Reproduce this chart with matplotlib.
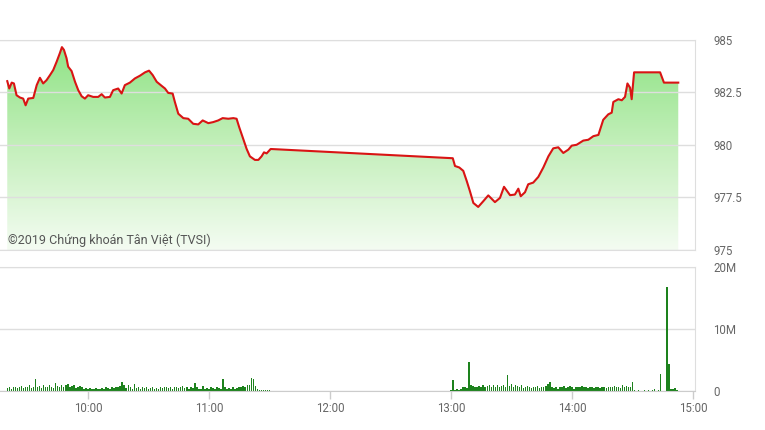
import matplotlib.pyplot as plt
import numpy as np
from matplotlib.patches import Polygon
from matplotlib.colors import LinearSegmentedColormap

plt.rcParams['font.family'] = ['Roboto', 'DejaVu Sans']

# gia chi so theo phut (tinh tu 9:00)
price_min = [20.0, 21.0, 22.2, 23.3, 24.6, 26.3, 27.9, 29.1, 30.4, 32.9,
             34.6, 36.2, 37.8, 39.5, 41.2, 42.8, 44.5, 46.1, 47.1, 48.1,
             49.4, 50.2, 51.9, 53.6, 55.2, 56.9, 58.5, 60.1, 62.6, 65.1,
             66.8, 68.4, 70.9, 72.5, 75.0, 76.7, 78.3, 80.8, 83.3, 85.8,
             88.3, 90.3, 92.1, 94.1, 96.5, 98.2, 99.8, 102.0, 103.1, 104.8,
             107.3, 109.7, 112.2, 114.7, 116.9, 119.7, 122.1, 124.6, 126.8, 129.6,
             132.1, 133.7, 135.0, 137.0, 138.7, 140.3, 142.8, 144.5, 146.1, 147.3,
             148.6, 150.6,
             240.9, 242.0, 244.1, 246.1, 247.8, 249.4, 251.1, 253.5, 256.0, 258.5,
             261.8, 264.3, 266.3, 269.3, 271.7, 273.4, 274.6, 276.7, 278.3, 280.8,
             283.3, 285.8, 288.3, 290.7, 293.2, 295.7, 298.2, 299.9, 302.3, 305.6,
             308.1, 310.6, 313.1, 315.5, 318.0, 319.7, 320.5, 323.0, 324.7, 326.3,
             327.5, 328.8, 329.6, 330.8, 343.7, 345.6, 352.7]
price = [983.04, 982.69, 982.97, 982.93, 982.37, 982.26, 982.21, 981.89, 982.21, 982.24,
         982.85, 983.20, 982.93, 983.09, 983.33, 983.57, 983.97, 984.38, 984.66, 984.53,
         984.13, 983.73, 983.52, 983.01, 982.61, 982.32, 982.21, 982.37, 982.29, 982.29,
         982.42, 982.26, 982.29, 982.61, 982.69, 982.45, 982.85, 982.97, 983.17, 983.30,
         983.46, 983.54, 983.33, 983.01, 982.82, 982.69, 982.48, 982.45, 982.05, 981.49,
         981.28, 981.25, 981.01, 980.98, 981.17, 981.04, 981.09, 981.17, 981.28, 981.25,
         981.28, 981.25, 980.85, 980.29, 979.81, 979.46, 979.29, 979.29, 979.46, 979.65,
         979.60, 979.81,
         979.37, 979.00, 978.93, 978.77, 978.29, 977.80, 977.24, 977.05, 977.32, 977.60,
         977.28, 977.48, 978.01, 977.61, 977.64, 977.92, 977.56, 977.75, 978.13, 978.21,
         978.48, 978.93, 979.46, 979.84, 979.89, 979.62, 979.78, 979.97, 980.01, 980.21,
         980.25, 980.42, 980.48, 981.20, 981.46, 981.54, 982.05, 982.18, 982.13, 982.29,
         982.93, 982.73, 982.18, 983.46, 983.46, 982.97, 982.97]

# khoi luong (trieu CP) moi phut
vol_am_start = 20
vol_am = [0.5, 0.6, 0.4, 0.6, 0.7, 0.5, 0.6, 0.8, 0.5, 0.7,
          0.6, 0.9, 0.5, 0.7, 2.0, 0.6, 0.8, 0.5, 1.0, 0.7,
          0.6, 0.9, 0.7, 0.5, 1.3, 0.8, 0.6, 1.0, 0.7, 0.9,
          1.2, 0.6, 0.8, 0.9, 0.5, 0.7, 0.8, 0.6, 0.4, 0.5,
          0.4, 0.5, 0.3, 0.4, 0.5, 0.3, 0.4, 0.5, 0.4, 0.6,
          0.5, 0.4, 0.6, 0.5, 0.7, 0.6, 0.8, 1.5, 0.9, 0.5,
          1.0, 0.6, 0.4, 1.2, 0.5, 0.7, 0.4, 0.6, 0.5, 0.6,
          0.4, 0.5, 0.6, 0.4, 0.5, 0.3, 0.6, 0.5, 0.7, 0.6,
          0.5, 0.6, 0.4, 0.7, 0.6, 0.5, 0.6, 0.8, 0.5, 0.6,
          0.4, 0.6, 0.5, 1.3, 0.6, 0.4, 0.3, 0.8, 0.4, 0.5,
          0.4, 0.6, 0.5, 0.4, 0.6, 0.5, 0.4, 2.0, 0.6, 0.4,
          0.5, 0.4, 0.6, 0.4, 0.5, 0.7, 0.6, 0.8, 0.7, 1.0,
          0.9, 2.1, 2.0, 0.8, 0.3, 0.2, 0.2, 0.1, 0.2, 0.1, 0.1]
vol_pm_start = 240
vol_pm = [0.1, 1.7, 0.2, 0.3, 0.2, 0.3, 0.6, 0.7, 0.5, 4.7,
          0.9, 0.8, 0.7, 0.6, 0.8, 0.7, 0.9, 0.6, 0.8, 1.0,
          0.7, 0.9, 0.6, 1.0, 0.7, 0.8, 0.9, 0.6, 2.6, 0.8,
          1.1, 0.7, 0.9, 0.8, 0.6, 0.9, 0.5, 0.7, 0.8, 0.6,
          0.5, 0.7, 0.6, 0.8, 0.5, 0.7, 0.6, 0.8, 1.2, 1.5,
          0.7, 0.5, 0.6, 0.4, 0.6, 0.7, 0.8, 0.5, 0.6, 0.8,
          0.7, 0.4, 0.6, 0.7, 0.6, 0.8, 0.7, 0.6, 0.5, 0.7,
          0.6, 0.5, 0.7, 0.6, 0.5, 0.6, 0.7, 0.5, 0.6, 0.7,
          0.6, 0.8, 0.7, 0.6, 0.5, 0.9, 0.7, 0.8, 0.6, 0.7,
          1.4, 0.1, 0.0, 0.1, 0.0, 0.0, 0.1, 0.0, 0.2, 0.0,
          0.1, 0.3, 0.0, 0.2, 2.8, 0.0, 0.0, 16.8, 4.4, 0.4,
          0.3, 0.5, 0.2]

xticks = [60, 120, 180, 240, 300, 360]
xlabels = ['10:00', '11:00', '12:00', '13:00', '14:00', '15:00']
price_ticks = [975, 977.5, 980, 982.5, 985]
price_labels = ['975', '977.5', '980', '982.5', '985']
vol_ticks = [0, 10, 20]
vol_labels = ['0', '10M', '20M']

xlim = (16.4, 361)
grid_c = '#dedede'
text_c = '#666666'

fig = plt.figure(figsize=(7.65, 4.3), dpi=100)
ax = fig.add_axes([0, 0.4186, 0.9085, 0.4884])
axv = fig.add_axes([0, 0.0907, 0.9085, 0.2884])

# --- gia ---
t = np.array(price_min)
p = np.array(price)
ax.set_xlim(*xlim)
ax.set_ylim(975, 985)

verts = list(zip(t, p)) + [(t[-1], 975), (t[0], 975)]
clip = Polygon(verts, closed=True, facecolor='none', edgecolor='none', transform=ax.transData)
ax.add_patch(clip)
cmap = LinearSegmentedColormap.from_list('g', ['#f4fcf2', '#c3efba', '#8ce282'])
grad = np.linspace(0, 1, 256).reshape(-1, 1)
im = ax.imshow(grad, extent=[t[0], t[-1], 975, 985], origin='lower', aspect='auto',
               cmap=cmap, zorder=1)
im.set_clip_path(clip)

ax.plot(t, p, color='#d91414', lw=1.5, zorder=3)

ax.set_yticks(price_ticks)
ax.set_yticklabels(price_labels)
ax.yaxis.tick_right()
ax.tick_params(axis='y', length=0, pad=13, labelsize=8.3, labelcolor=text_c)
ax.set_xticks([])
ax.grid(axis='y', color=grid_c, lw=1, zorder=0)
for s in ['top', 'right', 'bottom']:
    ax.spines[s].set_color(grid_c)
ax.spines['left'].set_visible(False)
ax.text(0.0115, 0.048, '©2019 Chứng khoán Tân Việt (TVSI)', transform=ax.transAxes,
        fontsize=9, color='#555555', va='center', ha='left', zorder=4)

# --- khoi luong ---
tv_am = np.arange(len(vol_am)) + vol_am_start
tv_pm = np.arange(len(vol_pm)) + vol_pm_start
axv.bar(tv_am, vol_am, width=0.75, color='#1d821d', antialiased=False, zorder=2)
axv.bar(tv_pm, vol_pm, width=0.75, color='#1d821d', antialiased=False, zorder=2)
axv.set_xlim(*xlim)
axv.set_ylim(0, 20)
axv.set_yticks(vol_ticks)
axv.set_yticklabels(vol_labels)
axv.yaxis.tick_right()
axv.tick_params(axis='y', length=0, pad=13, labelsize=8.3, labelcolor=text_c)
axv.set_xticks(xticks)
axv.set_xticklabels(xlabels)
axv.tick_params(axis='x', length=6, width=1, color='#cccccc', pad=2,
                labelsize=8.3, labelcolor=text_c)
axv.grid(axis='y', color=grid_c, lw=1, zorder=0)
for s in ['top', 'right']:
    axv.spines[s].set_color(grid_c)
axv.spines['bottom'].set_color('#cccccc')
axv.spines['left'].set_visible(False)

fig.savefig('out.png', dpi=100, facecolor='white')
